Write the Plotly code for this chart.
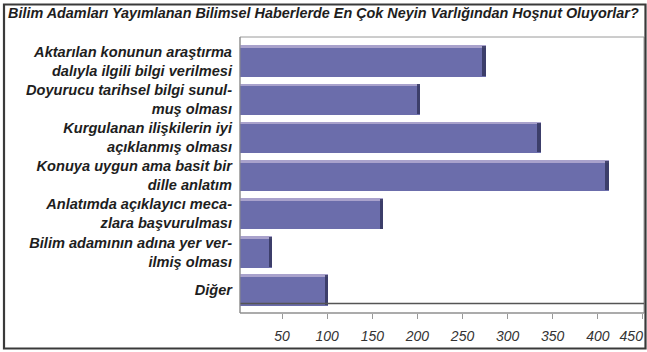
import plotly.graph_objects as go

# Survey answers (top to bottom) and their counts
categories = [
    "Aktarılan konunun araştırma<br>dalıyla ilgili bilgi verilmesi",
    "Doyurucu tarihsel bilgi sunul-<br>muş olması",
    "Kurgulanan ilişkilerin iyi<br>açıklanmış olması",
    "Konuya uygun ama basit bir<br>dille anlatım",
    "Anlatımda açıklayıcı meca-<br>zlara başvurulması",
    "Bilim adamının adına yer ver-<br>ilmiş olması",
    "Diğer",
]
counts = [276, 203, 337, 412, 162, 39, 101]
tick_values = [50, 100, 150, 200, 250, 300, 350, 400, 450]
title_text = "Bilim Adamları Yayımlanan Bilimsel Haberlerde En Çok Neyin Varlığından Hoşnut Oluyorlar?"

W, H = 647, 352
L, R, T, B = 240, 3, 37, 39
PW, PH = W - L - R, H - T - B


def px(xp):
    return (xp - L) / PW


def py(yp):
    return (H - B - yp) / PH


def bold_italic(s):
    return "<b><i>" + s.replace("<br>", "</i></b><br><b><i>") + "</i></b>"


def tick_label(v):
    # the last label sits at the right edge; pad it so it stays inside the frame
    pad = "\u2007" * 3 if v == tick_values[-1] else ""
    return "<i>%d</i>%s" % (v, pad)


BAR = "#6b6dab"
CAP = "#34365f"
EDGE = "#a9a2cc"
FONT = "Liberation Sans, Arial, sans-serif"

fig = go.Figure()

# main bar body
fig.add_trace(go.Bar(
    y=categories, x=counts, orientation="h", width=0.82,
    marker=dict(color=BAR, line=dict(width=0)), hoverinfo="skip",
))
# light upper edge
fig.add_trace(go.Bar(
    y=categories, x=counts, orientation="h", width=0.07, offset=-0.41,
    marker=dict(color=EDGE, line=dict(width=0)), hoverinfo="skip",
))
# darker end cap at the tip of each bar
fig.add_trace(go.Bar(
    y=categories, x=[4] * len(counts), base=[c - 4 for c in counts],
    orientation="h", width=0.78,
    marker=dict(color=CAP, line=dict(width=0)), opacity=0.85, hoverinfo="skip",
))

shapes = [
    # outer frame
    dict(type="rect", xref="paper", yref="paper",
         x0=px(4), x1=px(645.5), y0=py(348.5), y1=py(4.5),
         line=dict(color="#3a3a3a", width=2.2), layer="above"),
    # plot box
    dict(type="rect", xref="paper", yref="paper",
         x0=px(240), x1=px(644), y0=py(313), y1=py(37),
         line=dict(color="#9a9a9a", width=1), layer="below"),
    # floor back edge
    dict(type="line", xref="paper", yref="paper",
         x0=px(240), x1=px(644), y0=py(303.5), y1=py(303.5),
         line=dict(color="#555555", width=1.4), layer="above"),
    # floor front edge
    dict(type="line", xref="paper", yref="paper",
         x0=px(240), x1=px(644), y0=py(313), y1=py(313),
         line=dict(color="#8a8a8a", width=1.2), layer="above"),
    # left wall
    dict(type="line", xref="paper", yref="paper",
         x0=px(240), x1=px(240), y0=py(313), y1=py(37),
         line=dict(color="#8a8a8a", width=1), layer="above"),
]

fig.update_layout(
    width=W, height=H,
    margin=dict(l=L, r=R, t=T, b=B, autoexpand=False),
    paper_bgcolor="white", plot_bgcolor="white",
    barmode="overlay", showlegend=False,
    bargap=0,
    title=dict(text=bold_italic(title_text), xref="container", yref="container",
               x=8 / W, xanchor="left", y=1 - 13 / H, yanchor="middle",
               font=dict(family=FONT, size=14.4, color="#1e1e1e")),
    xaxis=dict(range=[3.3, 451.2], tickvals=tick_values,
               ticktext=[tick_label(v) for v in tick_values],
               ticks="outside", ticklen=5, tickcolor="#999999",
               showgrid=False, zeroline=False, showline=False,
               automargin=False,
               ticklabelstandoff=5, ticklabeloverflow="allow",
               tickfont=dict(family=FONT, size=14, color="#333333")),
    yaxis=dict(categoryorder="array", categoryarray=categories,
               tickvals=categories,
               ticktext=[bold_italic(c) for c in categories],
               range=[6.6, -0.63], showgrid=False, zeroline=False,
               showline=False, ticks="", ticklabelstandoff=7,
               automargin=False,
               tickfont=dict(family=FONT, size=14.6, color="#1e1e1e")),
    shapes=shapes,
)

fig.write_html("out.html")
